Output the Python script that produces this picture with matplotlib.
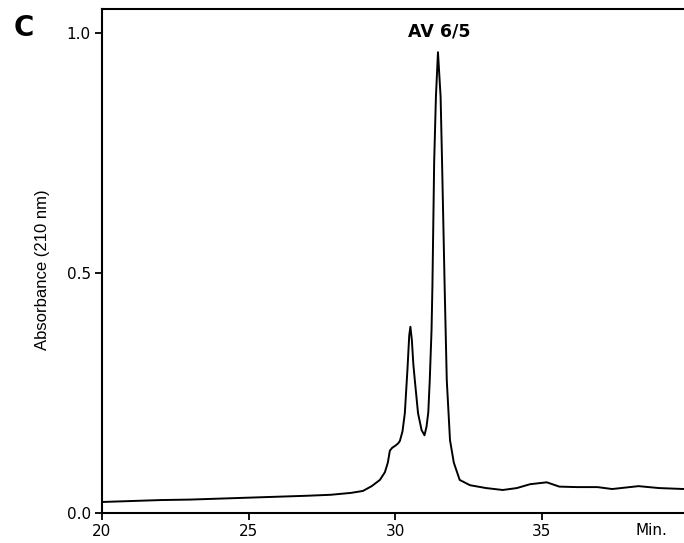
import matplotlib.pyplot as plt

# Chromatogram trace (time in min, absorbance at 210 nm)
time_min = [20, 21, 22, 23, 24, 25, 26, 27, 27.8, 28.5, 28.9, 29.2, 29.48, 29.65,
            29.75, 29.82, 29.9, 30.0, 30.1, 30.16, 30.25, 30.33, 30.42, 30.48,
            30.52, 30.57, 30.62, 30.67, 30.78, 30.9, 31.0, 31.07, 31.13, 31.18,
            31.24, 31.27, 31.33, 31.39, 31.46, 31.55, 31.60, 31.69, 31.76, 31.87,
            32.0, 32.2, 32.55, 33.1, 33.67, 34.15, 34.6, 35.17, 35.6, 36.2, 36.9,
            37.4, 38.3, 39.0, 39.85]
absorbance = [0.023, 0.025, 0.027, 0.028, 0.030, 0.032, 0.034, 0.036, 0.038,
              0.042, 0.046, 0.056, 0.069, 0.085, 0.105, 0.13, 0.136, 0.14, 0.145,
              0.15, 0.17, 0.208, 0.30, 0.37, 0.388, 0.36, 0.31, 0.277, 0.208,
              0.173, 0.162, 0.18, 0.21, 0.277, 0.38, 0.47, 0.73, 0.867, 0.96,
              0.867, 0.73, 0.465, 0.277, 0.152, 0.105, 0.069, 0.058, 0.052, 0.048,
              0.052, 0.06, 0.064, 0.055, 0.054, 0.054, 0.05, 0.056, 0.052, 0.05]

x_ticks = [20, 25, 30, 35]
y_ticks = [0.0, 0.5, 1.0]
y_tick_labels = ['0.0', '0.5', '1.0']

plt.rcParams['font.family'] = ['DejaVu Sans']

fig = plt.figure(figsize=(6.84, 5.43), dpi=100)
ax = fig.add_axes([0.149, 0.0552, 0.851, 0.9282])

ax.plot(time_min, absorbance, color='black', linewidth=1.4)

ax.set_xlim(20, 39.85)
ax.set_ylim(0, 1.05)
ax.set_xticks(x_ticks)
ax.set_yticks(y_ticks)
ax.set_yticklabels(y_tick_labels)
ax.tick_params(direction='out', length=5, width=1.3, labelsize=11, pad=3)

for side in ['left', 'bottom', 'top']:
    ax.spines[side].set_linewidth(1.5)
ax.spines['right'].set_visible(False)

ax.set_ylabel('Absorbance (210 nm)', family=['Liberation Sans Narrow', 'Liberation Sans'],
              fontsize=12, labelpad=12)
ax.yaxis.label.set_y(0.482)

# "Min." sits in place of the 40 tick label
ax.text(38.75, -0.02, 'Min.', ha='center', va='top', fontsize=11)
ax.text(31.5, 1.004, 'AV 6/5', ha='center', va='center',
        fontsize=12.5, fontweight='bold')
fig.text(0.035, 0.948, 'C', ha='center', va='center', fontsize=20,
         fontweight='bold')

fig.savefig('out.png', dpi=100)
